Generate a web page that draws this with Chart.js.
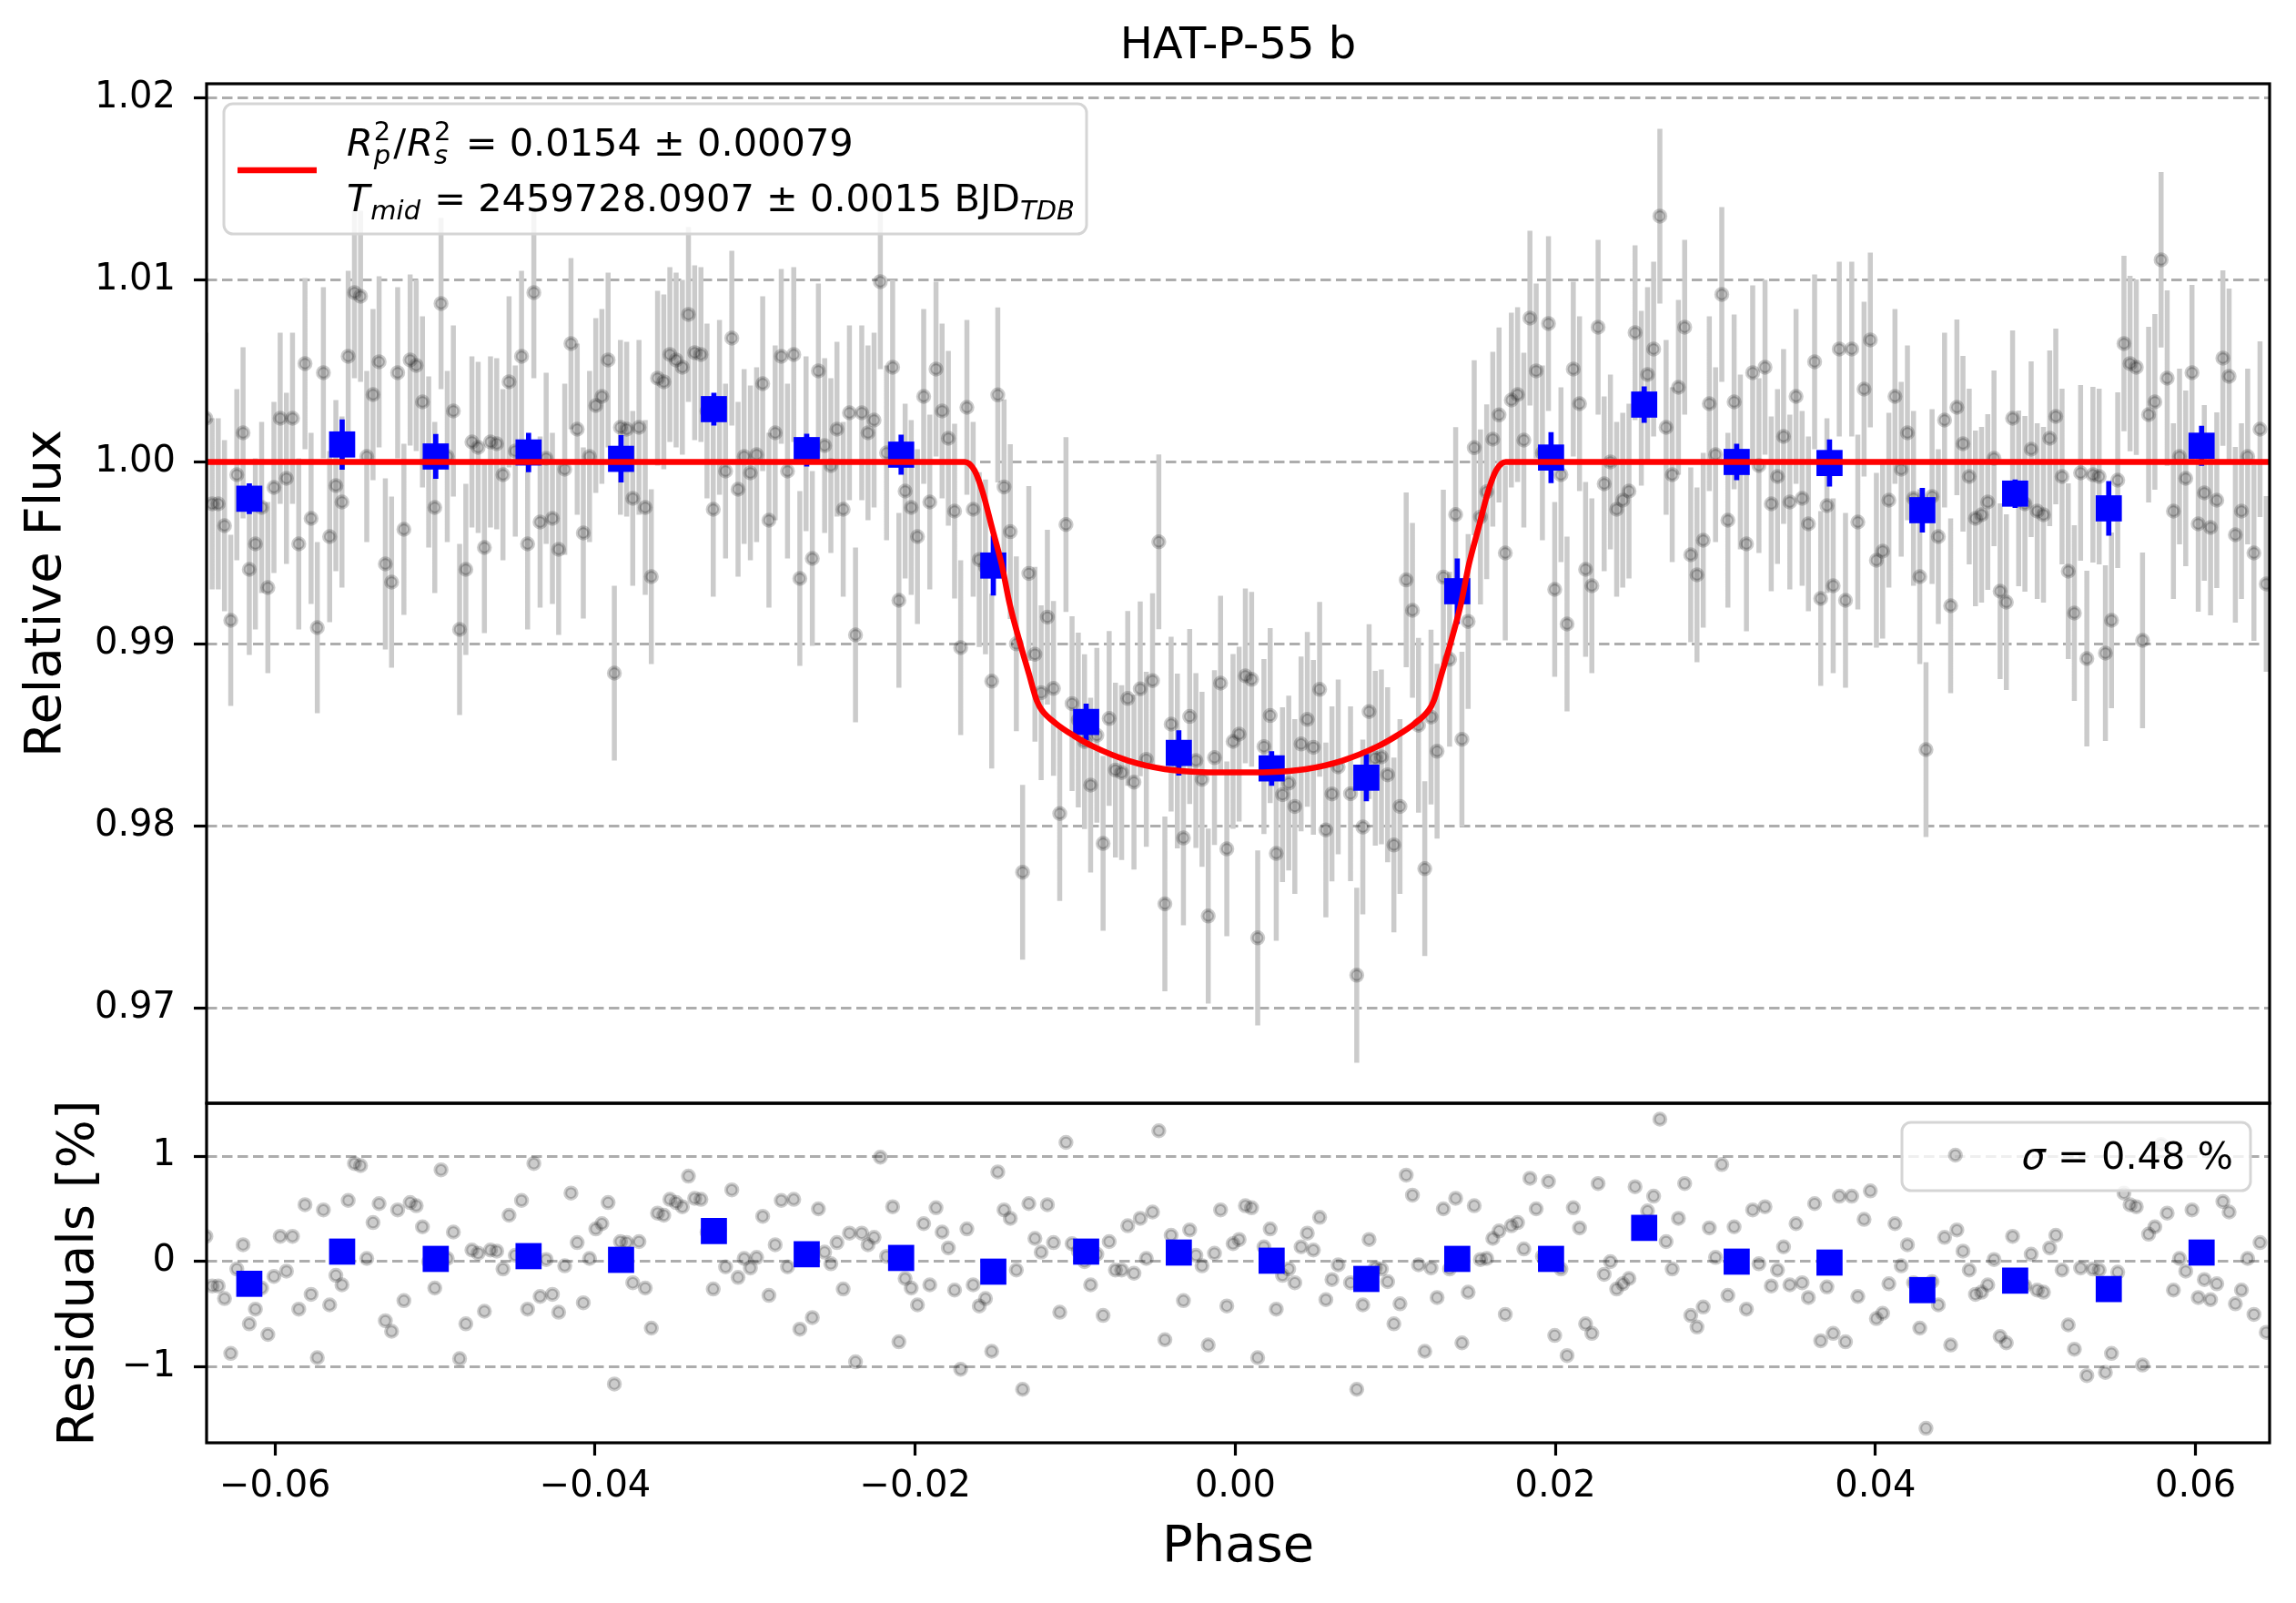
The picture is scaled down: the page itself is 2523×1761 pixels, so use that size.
<!DOCTYPE html>
<html>
<head>
<meta charset="utf-8">
<title>HAT-P-55 b</title>
<script src="https://cdn.jsdelivr.net/npm/chart.js@4.4.1/dist/chart.umd.min.js"></script>
<style>
  html, body { margin: 0; padding: 0; background: #fff; overflow: hidden; }
  canvas { position: absolute; left: 0; top: 0; }
</style>
</head>
<body>
<canvas id="fluxChart" width="2523" height="1761"></canvas>
<canvas id="residChart" width="2523" height="1761"></canvas>
<script>
// phase of every exposure
const phase = [
  -0.06432, -0.06393, -0.06355, -0.06316, -0.06277, -0.06239, -0.06200, -0.06161, -0.06123, -0.06084,
  -0.06045, -0.06007, -0.05968, -0.05929, -0.05891, -0.05852, -0.05813, -0.05775, -0.05736, -0.05698,
  -0.05659, -0.05620, -0.05582, -0.05543, -0.05504, -0.05466, -0.05427, -0.05388, -0.05350, -0.05311,
  -0.05272, -0.05234, -0.05195, -0.05156, -0.05118, -0.05079, -0.05040, -0.05002, -0.04963, -0.04924,
  -0.04886, -0.04847, -0.04808, -0.04770, -0.04731, -0.04692, -0.04654, -0.04615, -0.04576, -0.04538,
  -0.04499, -0.04460, -0.04422, -0.04383, -0.04344, -0.04306, -0.04267, -0.04228, -0.04190, -0.04151,
  -0.04112, -0.04074, -0.04035, -0.03996, -0.03958, -0.03919, -0.03880, -0.03842, -0.03803, -0.03765,
  -0.03726, -0.03687, -0.03649, -0.03610, -0.03571, -0.03533, -0.03494, -0.03455, -0.03417, -0.03378,
  -0.03339, -0.03301, -0.03262, -0.03223, -0.03185, -0.03146, -0.03107, -0.03069, -0.03030, -0.02991,
  -0.02953, -0.02914, -0.02875, -0.02837, -0.02798, -0.02759, -0.02721, -0.02682, -0.02643, -0.02605,
  -0.02566, -0.02527, -0.02489, -0.02450, -0.02411, -0.02373, -0.02334, -0.02295, -0.02257, -0.02218,
  -0.02179, -0.02141, -0.02102, -0.02063, -0.02025, -0.01986, -0.01947, -0.01909, -0.01870, -0.01832,
  -0.01793, -0.01754, -0.01716, -0.01677, -0.01638, -0.01600, -0.01561, -0.01522, -0.01484, -0.01445,
  -0.01406, -0.01368, -0.01329, -0.01290, -0.01252, -0.01213, -0.01174, -0.01136, -0.01097, -0.01058,
  -0.01020, -0.00981, -0.00942, -0.00904, -0.00865, -0.00826, -0.00788, -0.00749, -0.00710, -0.00672,
  -0.00633, -0.00594, -0.00556, -0.00517, -0.00478, -0.00440, -0.00401, -0.00362, -0.00324, -0.00285,
  -0.00246, -0.00208, -0.00169, -0.00130, -0.00092, -0.00053, -0.00014, 0.00024, 0.00063, 0.00102,
  0.00140, 0.00179, 0.00218, 0.00256, 0.00295, 0.00334, 0.00372, 0.00411, 0.00450, 0.00488,
  0.00527, 0.00566, 0.00604, 0.00643, 0.00720, 0.00759, 0.00797, 0.00836, 0.00875,
  0.00913, 0.00952, 0.00991, 0.01029, 0.01068, 0.01107, 0.01145, 0.01184, 0.01223, 0.01261,
  0.01300, 0.01339, 0.01377, 0.01416, 0.01455, 0.01493, 0.01532, 0.01571, 0.01609, 0.01648,
  0.01687, 0.01725, 0.01764, 0.01803, 0.01841, 0.01880, 0.01919, 0.01957, 0.01996, 0.02035,
  0.02073, 0.02112, 0.02151, 0.02189, 0.02228, 0.02267, 0.02305, 0.02344, 0.02383, 0.02421,
  0.02460, 0.02498, 0.02537, 0.02576, 0.02614, 0.02653, 0.02692, 0.02730, 0.02769, 0.02808,
  0.02846, 0.02885, 0.02924, 0.02962, 0.03001, 0.03040, 0.03078, 0.03117, 0.03156, 0.03194,
  0.03233, 0.03272, 0.03310, 0.03349, 0.03388, 0.03426, 0.03465, 0.03504, 0.03542, 0.03581,
  0.03620, 0.03658, 0.03697, 0.03736, 0.03774, 0.03813, 0.03852, 0.03890, 0.03929, 0.03968,
  0.04006, 0.04045, 0.04084, 0.04122, 0.04161, 0.04200, 0.04238, 0.04277, 0.04316, 0.04354,
  0.04393, 0.04432, 0.04470, 0.04509, 0.04547, 0.04586, 0.04625, 0.04663, 0.04702, 0.04741,
  0.04779, 0.04818, 0.04857, 0.04895, 0.04934, 0.04973, 0.05011, 0.05050, 0.05089, 0.05127,
  0.05166, 0.05205, 0.05243, 0.05282, 0.05321, 0.05359, 0.05398, 0.05437, 0.05475, 0.05514,
  0.05553, 0.05591, 0.05630, 0.05669, 0.05707, 0.05746, 0.05785, 0.05823, 0.05862, 0.05900,
  0.05939, 0.05978, 0.06017, 0.06055, 0.06094, 0.06133, 0.06171, 0.06210, 0.06249, 0.06287,
  0.06326, 0.06365, 0.06403, 0.06442
];

// relative flux of every exposure
const flux = [
  1.0024, 0.9977, 0.9977, 0.9965, 0.9913, 0.9993, 1.0016, 0.9941, 0.9955, 0.9975,
  0.9931, 0.9986, 1.0024, 0.9991, 1.0024, 0.9955, 1.0054, 0.9969, 0.9909, 1.0049,
  0.9959, 0.9987, 0.9978, 1.0058, 1.0093, 1.0091, 1.0003, 1.0037, 1.0055, 0.9944,
  0.9934, 1.0049, 0.9963, 1.0056, 1.0053, 1.0033, 1.0000, 0.9975, 1.0087, 1.0003,
  1.0028, 0.9908, 0.9941, 1.0011, 1.0008, 0.9953, 1.0011, 1.0010, 0.9993, 1.0044,
  1.0006, 1.0058, 0.9955, 1.0093, 0.9967, 1.0002, 0.9969, 0.9952, 0.9996, 1.0065,
  1.0018, 0.9961, 1.0003, 1.0031, 1.0036, 1.0056, 0.9884, 1.0019, 1.0018, 0.9980,
  1.0019, 0.9975, 0.9937, 1.0046, 1.0044, 1.0059, 1.0056, 1.0052, 1.0081, 1.0060,
  1.0059, 1.0028, 0.9974, 1.0030, 0.9995, 1.0068, 0.9985, 1.0003, 0.9994, 1.0004,
  1.0043, 0.9968, 1.0016, 1.0058, 0.9995, 1.0059, 0.9936, 1.0010, 0.9947, 1.0050,
  1.0009, 0.9998, 1.0018, 0.9974, 1.0027, 0.9905, 1.0027, 1.0016, 1.0023, 1.0099,
  1.0005, 1.0052, 0.9924, 0.9984, 0.9975, 0.9959, 1.0036, 0.9978, 1.0051, 1.0028,
  1.0013, 0.9973, 0.9898, 1.0030, 0.9974, 0.99464, 0.99424, 0.98796, 1.00368, 0.99863,
  0.99617, 0.99001, 0.97747, 0.99388, 0.98944, 0.98733, 0.99148, 0.98756, 0.98069, 0.99656,
  0.98673, 0.98583, 0.98464, 0.98225, 0.98499, 0.97905, 0.98591, 0.98308, 0.98294, 0.98701,
  0.98242, 0.98754, 0.98367, 0.98799, 0.99561, 0.97573, 0.98560, 0.98358, 0.97935, 0.98602,
  0.98360, 0.98257, 0.97506, 0.98376, 0.98785, 0.97875, 0.98465, 0.98505, 0.98825, 0.98806,
  0.97386, 0.98437, 0.98607, 0.97850, 0.98173, 0.98236, 0.98108, 0.98451, 0.98586, 0.98433,
  0.98751, 0.97979, 0.98177, 0.98325, 0.98178, 0.97181, 0.97995, 0.98629, 0.98373,
  0.98380, 0.98282, 0.97896, 0.98108, 0.99352, 0.99185, 0.98554, 0.97766, 0.98599, 0.98411,
  0.99367, 0.98916, 0.99711, 0.98477, 0.99124, 1.00078, 0.99698, 0.99836, 1.00125, 1.00258,
  0.9950, 1.0034, 1.0037, 1.0012, 1.0079, 1.0050, 1.0005, 1.0076, 0.9930, 0.9993,
  0.9911, 1.0051, 1.0032, 0.9941, 0.9932, 1.0074, 0.9988, 1.0000, 0.9974, 0.9979,
  0.9984, 1.0071, 1.0035, 1.0048, 1.0062, 1.0135, 1.0019, 0.9993, 1.0041, 1.0074,
  0.9949, 0.9938, 0.9957, 1.0032, 1.0004, 1.0092, 0.9968, 1.0033, 1.0000, 0.9955,
  1.0049, 0.9998, 1.0052, 0.9977, 0.9992, 1.0014, 0.9978, 1.0036, 0.9980, 0.9966,
  1.0055, 0.9925, 0.9976, 0.9932, 1.0062, 0.9924, 1.0062, 0.9967, 1.0040, 1.0067,
  0.9946, 0.9951, 0.9979, 1.0036, 0.9996, 1.0016, 0.9980, 0.9937, 0.9842, 0.9981,
  0.9959, 1.0023, 0.9921, 1.0030, 1.0010, 0.9992, 0.9969, 0.9971, 0.9978, 1.0002,
  0.9929, 0.9923, 1.0024, 0.9980, 0.9977, 1.0007, 0.9973, 0.9971, 1.0013, 1.0025,
  0.9992, 0.9940, 0.9917, 0.9994, 0.9892, 0.9993, 0.9992, 0.9895, 0.9913, 0.9990,
  1.0065, 1.0054, 1.0052, 0.9902, 1.0026, 1.0033, 1.0111, 1.0046, 0.9973, 1.0003,
  0.9991, 1.0049, 0.9966, 0.9983, 0.9964, 0.9979, 1.0057, 1.0047, 0.9960, 0.9973,
  1.0003, 0.9950, 1.0018, 0.9933
];

// residuals in percent
const resid = [
  0.24, -0.23, -0.23, -0.35, -0.87, -0.07, 0.16, -0.59, -0.45, -0.25,
  -0.69, -0.14, 0.24, -0.09, 0.24, -0.45, 0.54, -0.31, -0.91, 0.49,
  -0.41, -0.13, -0.22, 0.58, 0.93, 0.91, 0.03, 0.37, 0.55, -0.56,
  -0.66, 0.49, -0.37, 0.56, 0.53, 0.33, 0.00, -0.25, 0.87, 0.03,
  0.28, -0.92, -0.59, 0.11, 0.08, -0.47, 0.11, 0.10, -0.07, 0.44,
  0.06, 0.58, -0.45, 0.93, -0.33, 0.02, -0.31, -0.48, -0.04, 0.65,
  0.18, -0.39, 0.03, 0.31, 0.36, 0.56, -1.16, 0.19, 0.18, -0.20,
  0.19, -0.25, -0.63, 0.46, 0.44, 0.59, 0.56, 0.52, 0.81, 0.60,
  0.59, 0.28, -0.26, 0.30, -0.05, 0.68, -0.15, 0.03, -0.06, 0.04,
  0.43, -0.32, 0.16, 0.58, -0.05, 0.59, -0.64, 0.10, -0.53, 0.50,
  0.09, -0.02, 0.18, -0.26, 0.27, -0.95, 0.27, 0.16, 0.23, 0.99,
  0.05, 0.52, -0.76, -0.16, -0.25, -0.41, 0.36, -0.22, 0.51, 0.28,
  0.13, -0.27, -1.02, 0.31, -0.22, -0.42, -0.35, -0.85, 0.85, 0.49,
  0.41, -0.08, -1.21, 0.55, 0.22, 0.09, 0.54, 0.18, -0.48, 1.13,
  0.17, 0.10, 0.00, -0.22, 0.07, -0.51, 0.19, -0.08, -0.08, 0.34,
  -0.11, 0.41, 0.03, 0.47, 1.24, -0.74, 0.25, 0.05, -0.37, 0.30,
  0.06, -0.04, -0.79, 0.08, 0.49, -0.42, 0.17, 0.21, 0.53, 0.51,
  -0.91, 0.14, 0.31, -0.45, -0.13, -0.07, -0.20, 0.14, 0.27, 0.11,
  0.42, -0.36, -0.17, -0.03, -0.20, -1.21, -0.41, 0.21, -0.06,
  -0.07, -0.19, -0.59, -0.40, 0.82, 0.63, -0.03, -0.85, -0.06, -0.34,
  0.50, -0.07, 0.60, -0.77, -0.29, 0.53, 0.02, 0.03, 0.22, 0.29,
  -0.50, 0.34, 0.37, 0.12, 0.79, 0.50, 0.05, 0.76, -0.70, -0.07,
  -0.89, 0.51, 0.32, -0.59, -0.68, 0.74, -0.12, 0.00, -0.26, -0.21,
  -0.16, 0.71, 0.35, 0.48, 0.62, 1.35, 0.19, -0.07, 0.41, 0.74,
  -0.51, -0.62, -0.43, 0.32, 0.04, 0.92, -0.32, 0.33, 0.00, -0.45,
  0.49, -0.02, 0.52, -0.23, -0.08, 0.14, -0.22, 0.36, -0.20, -0.34,
  0.55, -0.75, -0.24, -0.68, 0.62, -0.76, 0.62, -0.33, 0.40, 0.67,
  -0.54, -0.49, -0.21, 0.36, -0.04, 0.16, -0.20, -0.63, -1.58, -0.19,
  -0.41, 0.23, -0.79, 0.30, 0.10, -0.08, -0.31, -0.29, -0.22, 0.02,
  -0.71, -0.77, 0.24, -0.20, -0.23, 0.07, -0.27, -0.29, 0.13, 0.25,
  -0.08, -0.60, -0.83, -0.06, -1.08, -0.07, -0.08, -1.05, -0.87, -0.10,
  0.65, 0.54, 0.52, -0.98, 0.26, 0.33, 1.11, 0.46, -0.27, 0.03,
  -0.09, 0.49, -0.34, -0.17, -0.36, -0.21, 0.57, 0.47, -0.40, -0.27,
  0.03, -0.50, 0.18, -0.67
];

// flux error of the single exposures, by phase range
const errBreaks = [-0.040, 0.045];
const errValues = [0.00470, 0.00480, 0.00482];

// binned points
const binPhase = [-0.06161, -0.05581, -0.04996, -0.04416, -0.03838, -0.03258, -0.02678, -0.02088,
  -0.01512, -0.00932, -0.00353, 0.00227, 0.00819, 0.01387, 0.01973, 0.02555, 0.03133, 0.03713,
  0.04293, 0.04873, 0.05458, 0.06038];
const binFlux = [0.99798, 1.00096, 1.00030, 1.00052, 1.00017, 1.00290, 1.00065, 1.00040,
  0.99431, 0.98572, 0.98402, 0.98317, 0.98266, 0.99290, 1.00024, 1.00315, 1.00000, 0.99994,
  0.99735, 0.99826, 0.99745, 1.00089];
const binErr = [0.00084, 0.00138, 0.00123, 0.00108, 0.00130, 0.00090, 0.00090, 0.00110,
  0.00165, 0.00101, 0.00124, 0.00095, 0.00130, 0.00180, 0.00140, 0.00100, 0.00100, 0.00129,
  0.00123, 0.00078, 0.00150, 0.00110];
const binResid = [-0.21, 0.095, 0.026, 0.052, 0.017, 0.29, 0.07, 0.035, -0.095, 0.095, 0.086,
  0.009, -0.164, 0.026, 0.026, 0.32, 0.0, -0.009, -0.27, -0.18, -0.26, 0.086];

// transit model
const modelPhase = [-0.0645, -0.0169, -0.0163, -0.0158, -0.0152, -0.0146, -0.0141, -0.0135, -0.0129,
  -0.0124, -0.0121, -0.0112, -0.0101, -0.0089, -0.0067, -0.0044, -0.0021, 0.0, 0.0021, 0.0044,
  0.0067, 0.0089, 0.0101, 0.0112, 0.0121, 0.0124, 0.0129, 0.0135, 0.0141, 0.0146, 0.0152, 0.0158,
  0.0163, 0.0169, 0.0648];
const modelFlux = [1.0, 1.0, 0.99954, 0.99838, 0.99638, 0.99438, 0.99221, 0.99021, 0.98838,
  0.98688, 0.98638, 0.98563, 0.98497, 0.98438, 0.98360, 0.98313, 0.98297, 0.98295, 0.98297, 0.98313,
  0.98360, 0.98438, 0.98497, 0.98563, 0.98638, 0.98688, 0.98838, 0.99021, 0.99221, 0.99438, 0.99638,
  0.99838, 0.99954, 1.0, 1.0];

// ticks
const fluxTicks = [0.97, 0.98, 0.99, 1.00, 1.01, 1.02];
const residTicks = [-1, 0, 1];
const phaseTicks = [-0.06, -0.04, -0.02, 0.00, 0.02, 0.04, 0.06];

const sigmaText = '0.48';

document.addEventListener('DOMContentLoaded', function () {
  Chart.defaults.font.family = "'DejaVu Sans', sans-serif";
  Chart.defaults.color = '#000';

  const xRange = { min: -0.06428, max: 0.06463 };
  const grey = 'rgba(0,0,0,0.2)';
  const dotRadius = 6.25, dotEdge = 4;
  const minus = s => s.replace('-', '\u2212');

  function pointErr(p) {
    for (let k = 0; k < errBreaks.length; k++) {
      if (p < errBreaks[k]) return errValues[k];
    }
    return errValues[errValues.length - 1];
  }

  function noPad(s) {
    s.paddingTop = 0; s.paddingBottom = 0; s.paddingLeft = 0; s.paddingRight = 0;
  }

  function yAxis(min, max, ticks, fmt, title, titlePad) {
    return {
      type: 'linear', min: min, max: max,
      afterBuildTicks: s => { s.ticks = ticks.map(v => ({ value: v })); },
      afterFit: s => { s.width = 227; noPad(s); },
      grid: { color: '#adadad', lineWidth: 3, tickLength: 14, tickWidth: 3.2, tickColor: '#000', tickBorderDash: [20, 0] },
      border: { display: false, dash: [11.5, 5.5] },
      ticks: { padding: 20, font: { size: 40 }, color: '#000', autoSkip: false, callback: fmt },
      title: { display: true, text: title, font: { size: 56 }, color: '#000', padding: { top: titlePad, bottom: 0 } }
    };
  }

  // black box round the plot area
  const frame = {
    id: 'frame',
    afterDatasetsDraw(chart) {
      const a = chart.chartArea, ctx = chart.ctx;
      ctx.save();
      ctx.strokeStyle = '#000';
      ctx.lineWidth = 3.2;
      ctx.strokeRect(a.left, a.top, a.right - a.left, a.bottom - a.top);
      ctx.restore();
    }
  };

  // vertical error bars, drawn just under their dataset
  function errorBars(specs) {
    return {
      id: 'errorBars',
      beforeDatasetDraw(chart, args) {
        const spec = specs[args.index];
        if (!spec) return;
        const a = chart.chartArea, ctx = chart.ctx;
        const xs = chart.scales.x, ys = chart.scales.y;
        ctx.save();
        ctx.beginPath();
        ctx.rect(a.left, a.top, a.right - a.left, a.bottom - a.top);
        ctx.clip();
        ctx.strokeStyle = spec.color;
        ctx.lineWidth = spec.width;
        ctx.beginPath();
        spec.x.forEach((x, i) => {
          const e = spec.err(i);
          const px = xs.getPixelForValue(x);
          ctx.moveTo(px, ys.getPixelForValue(spec.y[i] - e));
          ctx.lineTo(px, ys.getPixelForValue(spec.y[i] + e));
        });
        ctx.stroke();
        ctx.restore();
      }
    };
  }

  function runFont(r) {
    return (r.italic ? 'italic ' : '') + (r.size || 41.5) + "px 'DejaVu Sans'";
  }
  function runsWidth(ctx, runs) {
    let w = 0;
    runs.forEach(r => {
      if (r.stack) {
        let m = 0;
        r.stack.forEach(s => { ctx.font = runFont(s); m = Math.max(m, ctx.measureText(s.t).width); });
        w += m + (r.gap || 0);
      } else {
        ctx.font = runFont(r);
        w += ctx.measureText(r.t).width + (r.gap || 0);
      }
    });
    return w;
  }
  function drawRuns(ctx, x, y, runs) {
    ctx.fillStyle = '#000';
    ctx.textAlign = 'left';
    ctx.textBaseline = 'alphabetic';
    runs.forEach(r => {
      if (r.stack) {
        let m = 0;
        r.stack.forEach(s => {
          ctx.font = runFont(s);
          ctx.fillText(s.t, x, y + s.dy);
          m = Math.max(m, ctx.measureText(s.t).width);
        });
        x += m + (r.gap || 0);
      } else {
        ctx.font = runFont(r);
        ctx.fillText(r.t, x, y + (r.dy || 0));
        x += ctx.measureText(r.t).width + (r.gap || 0);
      }
    });
  }
  function box(ctx, x, y, w, h) {
    ctx.beginPath();
    ctx.roundRect(x, y, w, h, 10);
    ctx.fillStyle = 'rgba(255,255,255,0.8)';
    ctx.fill();
    ctx.lineWidth = 3;
    ctx.strokeStyle = '#d5d5d5';
    ctx.stroke();
  }

  const line1 = [
    { t: 'R', italic: true, gap: 1 },
    { stack: [{ t: 'p', italic: true, size: 29, dy: 9 }, { t: '2', size: 29, dy: -17 }], gap: 3 },
    { t: '/', gap: 1 },
    { t: 'R', italic: true, gap: 1 },
    { stack: [{ t: 's', italic: true, size: 29, dy: 9 }, { t: '2', size: 29, dy: -17 }], gap: 3 },
    { t: ' = 0.0154 \u00b1 0.00079' }
  ];
  const line2 = [
    { t: 'T', italic: true, gap: 1 },
    { t: 'mid', italic: true, size: 29, dy: 9, gap: 2 },
    { t: ' = 2459728.0907 \u00b1 0.0015 BJD' },
    { t: 'TDB', italic: true, size: 29, dy: 9 }
  ];
  const sigmaLine = [
    { t: '\u03c3', italic: true },
    { t: ' = ' + sigmaText + ' %' }
  ];

  const fluxLegend = {
    id: 'fluxLegend',
    afterDraw(chart) {
      const a = chart.chartArea, ctx = chart.ctx;
      const x0 = a.left + 19, y0 = a.top + 22;
      ctx.save();
      box(ctx, x0, y0, 948, 143);
      ctx.strokeStyle = '#ff0000';
      ctx.lineWidth = 6.5;
      ctx.beginPath();
      ctx.moveTo(x0 + 15, y0 + 73);
      ctx.lineTo(x0 + 102, y0 + 73);
      ctx.stroke();
      drawRuns(ctx, x0 + 135, y0 + 56.5, line1);
      drawRuns(ctx, x0 + 135, y0 + 117.5, line2);
      ctx.restore();
    }
  };

  const residLegend = {
    id: 'residLegend',
    afterDraw(chart) {
      const a = chart.chartArea, ctx = chart.ctx;
      const x0 = a.right - 404, y0 = a.top + 21;
      ctx.save();
      box(ctx, x0, y0, 383, 75);
      ctx.beginPath();
      ctx.arc(x0 + 58.7, y0 + 36, dotRadius, 0, Math.PI * 2);
      ctx.fillStyle = grey;
      ctx.fill();
      ctx.lineWidth = dotEdge;
      ctx.strokeStyle = grey;
      ctx.stroke();
      const w = runsWidth(ctx, sigmaLine);
      drawRuns(ctx, x0 + 364 - w, y0 + 51, sigmaLine);
      ctx.restore();
    }
  };

  const common = {
    responsive: false,
    animation: false,
    devicePixelRatio: 1,
    events: []
  };

  // upper panel: light curve
  new Chart(document.getElementById('fluxChart'), {
    type: 'scatter',
    data: {
      datasets: [
        {
          label: 'model',
          data: modelPhase.map((x, i) => ({ x: x, y: modelFlux[i] })),
          showLine: true, borderColor: '#ff0000', borderWidth: 6.5, pointRadius: 0,
          cubicInterpolationMode: 'monotone', clip: 0, order: 1
        },
        {
          label: 'binned',
          data: binPhase.map((x, i) => ({ x: x, y: binFlux[i] })),
          pointStyle: 'rect', pointRadius: 20.3, pointBackgroundColor: '#0000ff',
          pointBorderWidth: 0, clip: 0, order: 2
        },
        {
          label: 'data',
          data: phase.map((x, i) => ({ x: x, y: flux[i] })),
          pointRadius: dotRadius, pointBorderWidth: dotEdge, pointBackgroundColor: grey,
          pointBorderColor: grey, clip: 0, order: 3
        }
      ]
    },
    options: Object.assign({}, common, {
      layout: { padding: { left: 0, right: 29, top: 0, bottom: 549 } },
      plugins: {
        legend: { display: false },
        tooltip: { enabled: false },
        title: {
          display: true, fullSize: false, text: 'HAT-P-55 b', color: '#000',
          font: { size: 48, weight: 'normal' }, padding: { top: 22.6, bottom: 11.8 }
        }
      },
      scales: {
        x: Object.assign({ type: 'linear', display: false }, xRange),
        y: yAxis(0.96478, 1.02077, fluxTicks, v => v.toFixed(2), 'Relative Flux', 18)
      }
    }),
    plugins: [
      errorBars({
        1: { x: binPhase, y: binFlux, err: i => binErr[i], color: '#0000ff', width: 5.7 },
        2: { x: phase, y: flux, err: i => pointErr(phase[i]), color: '#cbcbcb', width: 5.5 }
      }),
      frame, fluxLegend
    ]
  });

  // lower panel: residuals
  new Chart(document.getElementById('residChart'), {
    type: 'scatter',
    data: {
      datasets: [
        {
          label: 'binned',
          data: binPhase.map((x, i) => ({ x: x, y: binResid[i] })),
          pointStyle: 'rect', pointRadius: 20.3, pointBackgroundColor: '#0000ff',
          pointBorderWidth: 0, clip: 0, order: 1
        },
        {
          label: 'residuals',
          data: phase.map((x, i) => ({ x: x, y: resid[i] })),
          pointRadius: dotRadius, pointBorderWidth: dotEdge, pointBackgroundColor: grey,
          pointBorderColor: grey, clip: 0, order: 2
        }
      ]
    },
    options: Object.assign({}, common, {
      layout: { padding: { left: 0, right: 29, top: 1212, bottom: 0 } },
      plugins: { legend: { display: false }, tooltip: { enabled: false } },
      scales: {
        x: Object.assign({
          type: 'linear',
          afterBuildTicks: s => { s.ticks = phaseTicks.map(v => ({ value: v })); },
          afterFit: s => { s.height = 176; noPad(s); },
          grid: { drawOnChartArea: false, tickLength: 14, tickWidth: 3.2, tickColor: '#000', tickBorderDash: [20, 0] },
          border: { display: false },
          ticks: { padding: 11, font: { size: 40 }, color: '#000', autoSkip: false, maxRotation: 0,
            callback: v => minus(v.toFixed(2)) },
          title: { display: true, text: 'Phase', font: { size: 56 }, color: '#000', padding: { top: 0, bottom: 27 } }
        }, xRange),
        y: yAxis(-1.717, 1.501, residTicks, v => minus(String(v)), 'Residuals [%]', 54)
      }
    }),
    plugins: [frame, residLegend]
  });
});
</script>
</body>
</html>
